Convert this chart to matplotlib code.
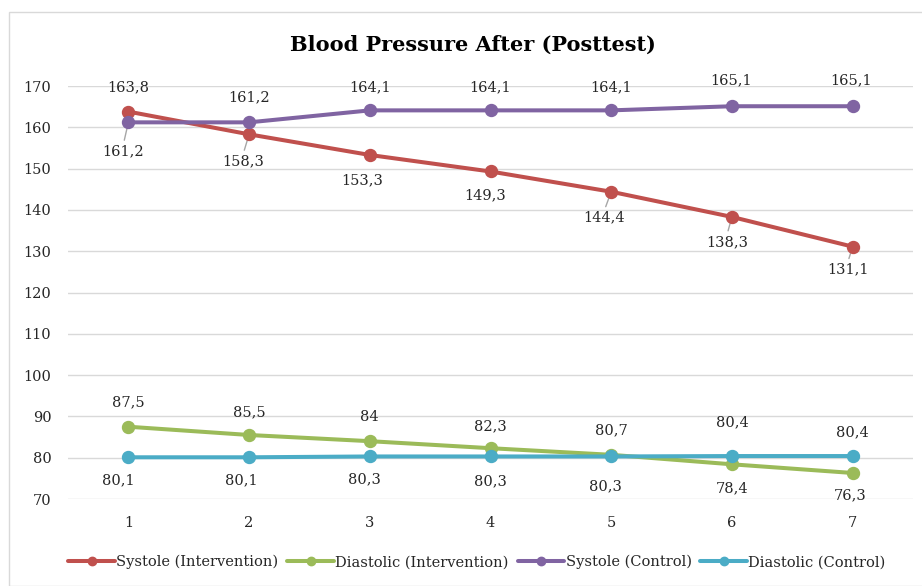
import matplotlib
matplotlib.use("Agg")
import matplotlib.pyplot as plt
from matplotlib.patches import Rectangle

categories = [1, 2, 3, 4, 5, 6, 7]
systole_int = [163.8, 158.3, 153.3, 149.3, 144.4, 138.3, 131.1]
diastolic_int = [87.5, 85.5, 84, 82.3, 80.7, 78.4, 76.3]
systole_ctrl = [161.2, 161.2, 164.1, 164.1, 164.1, 165.1, 165.1]
diastolic_ctrl = [80.1, 80.1, 80.3, 80.3, 80.3, 80.4, 80.4]
yticks = [70, 80, 90, 100, 110, 120, 130, 140, 150, 160, 170]

names = ["Systole (Intervention)", "Diastolic (Intervention)", "Systole (Control)", "Diastolic (Control)"]
colors = ["#C0504D", "#9BBB59", "#8064A2", "#4BACC6"]
series = [systole_int, diastolic_int, systole_ctrl, diastolic_ctrl]

# label offsets in pixels (dx, dy with dy positive = down), and leader-line flags
offsets = [
    [(0, -24), (-6, 27), (-8, 25), (-5, 24), (-7, 26), (-5, 25), (-5, 23)],
    [(0, -24), (0, -23), (0, -24), (0, -22), (0, -25), (0, 24), (-3, 22)],
    [(-5, 29), (0, -25), (0, -23), (0, -23), (0, -23), (-1, -26), (-2, -26)],
    [(-10, 23), (-8, 23), (-5, 23), (0, 25), (-6, 30), (0, -34), (0, -24)],
]
leaders = [
    [False, True, False, False, True, True, True],
    [False] * 7,
    [True, False, False, False, False, False, False],
    [False] * 7,
]

plt.rcParams['font.family'] = ['DejaVu Serif']

fig = plt.figure(figsize=(9.22, 5.86), dpi=100)
W, H = 922, 586
ax = fig.add_axes([68 / W, (H - 499) / H, (913 - 68) / W, (499 - 86) / H])

fig.patches.append(Rectangle((9 / W, 0), 1.2, (H - 12) / H, transform=fig.transFigure,
                             fill=False, edgecolor="#D9D9D9", linewidth=1.0))

for vals, c, nm in zip(series, colors, names):
    ax.plot(categories, vals, color=c, linewidth=2.9, marker="o", markersize=8.6,
            label=nm, zorder=4, solid_capstyle="round")

for vals, offs, lead in zip(series, offsets, leaders):
    for x, v, (dx, dy), ld in zip(categories, vals, offs, lead):
        txt = f"{v:g}".replace(".", ",")
        kw = {}
        if ld:
            kw["arrowprops"] = dict(arrowstyle="-", color="#A6A6A6", lw=1.0,
                                    shrinkA=1, shrinkB=2, relpos=(0.5, 1.0))
        ax.annotate(txt, xy=(x, v), xytext=(dx, -dy), textcoords="offset pixels",
                    ha="center", va="center", fontsize=10.5, color="#262626",
                    zorder=3, **kw)

ax.set_xlim(0.5, 7.5)
ax.set_ylim(70, 170)
ax.set_yticks(yticks)
ax.set_xticks(categories)
ax.grid(axis="y", color="#D9D9D9", linewidth=1.0)
ax.set_axisbelow(True)
for s in ax.spines.values():
    s.set_visible(False)
ax.tick_params(axis="both", length=0, labelsize=10.5, labelcolor="#262626")
ax.tick_params(axis="y", pad=12)
ax.tick_params(axis="x", pad=12)

fig.text(473 / W, (H - 45) / H, "Blood Pressure After (Posttest)", ha="center", va="center",
         fontsize=15, fontweight="bold", color="#000000")

fig.legend(loc="center", bbox_to_anchor=(477 / W, (H - 562) / H), ncol=4, frameon=False,
           fontsize=10.5, handlelength=3.2, handletextpad=0.1, columnspacing=0.6,
           markerscale=0.7, labelcolor="#262626")

fig.savefig("out.png", dpi=100)
